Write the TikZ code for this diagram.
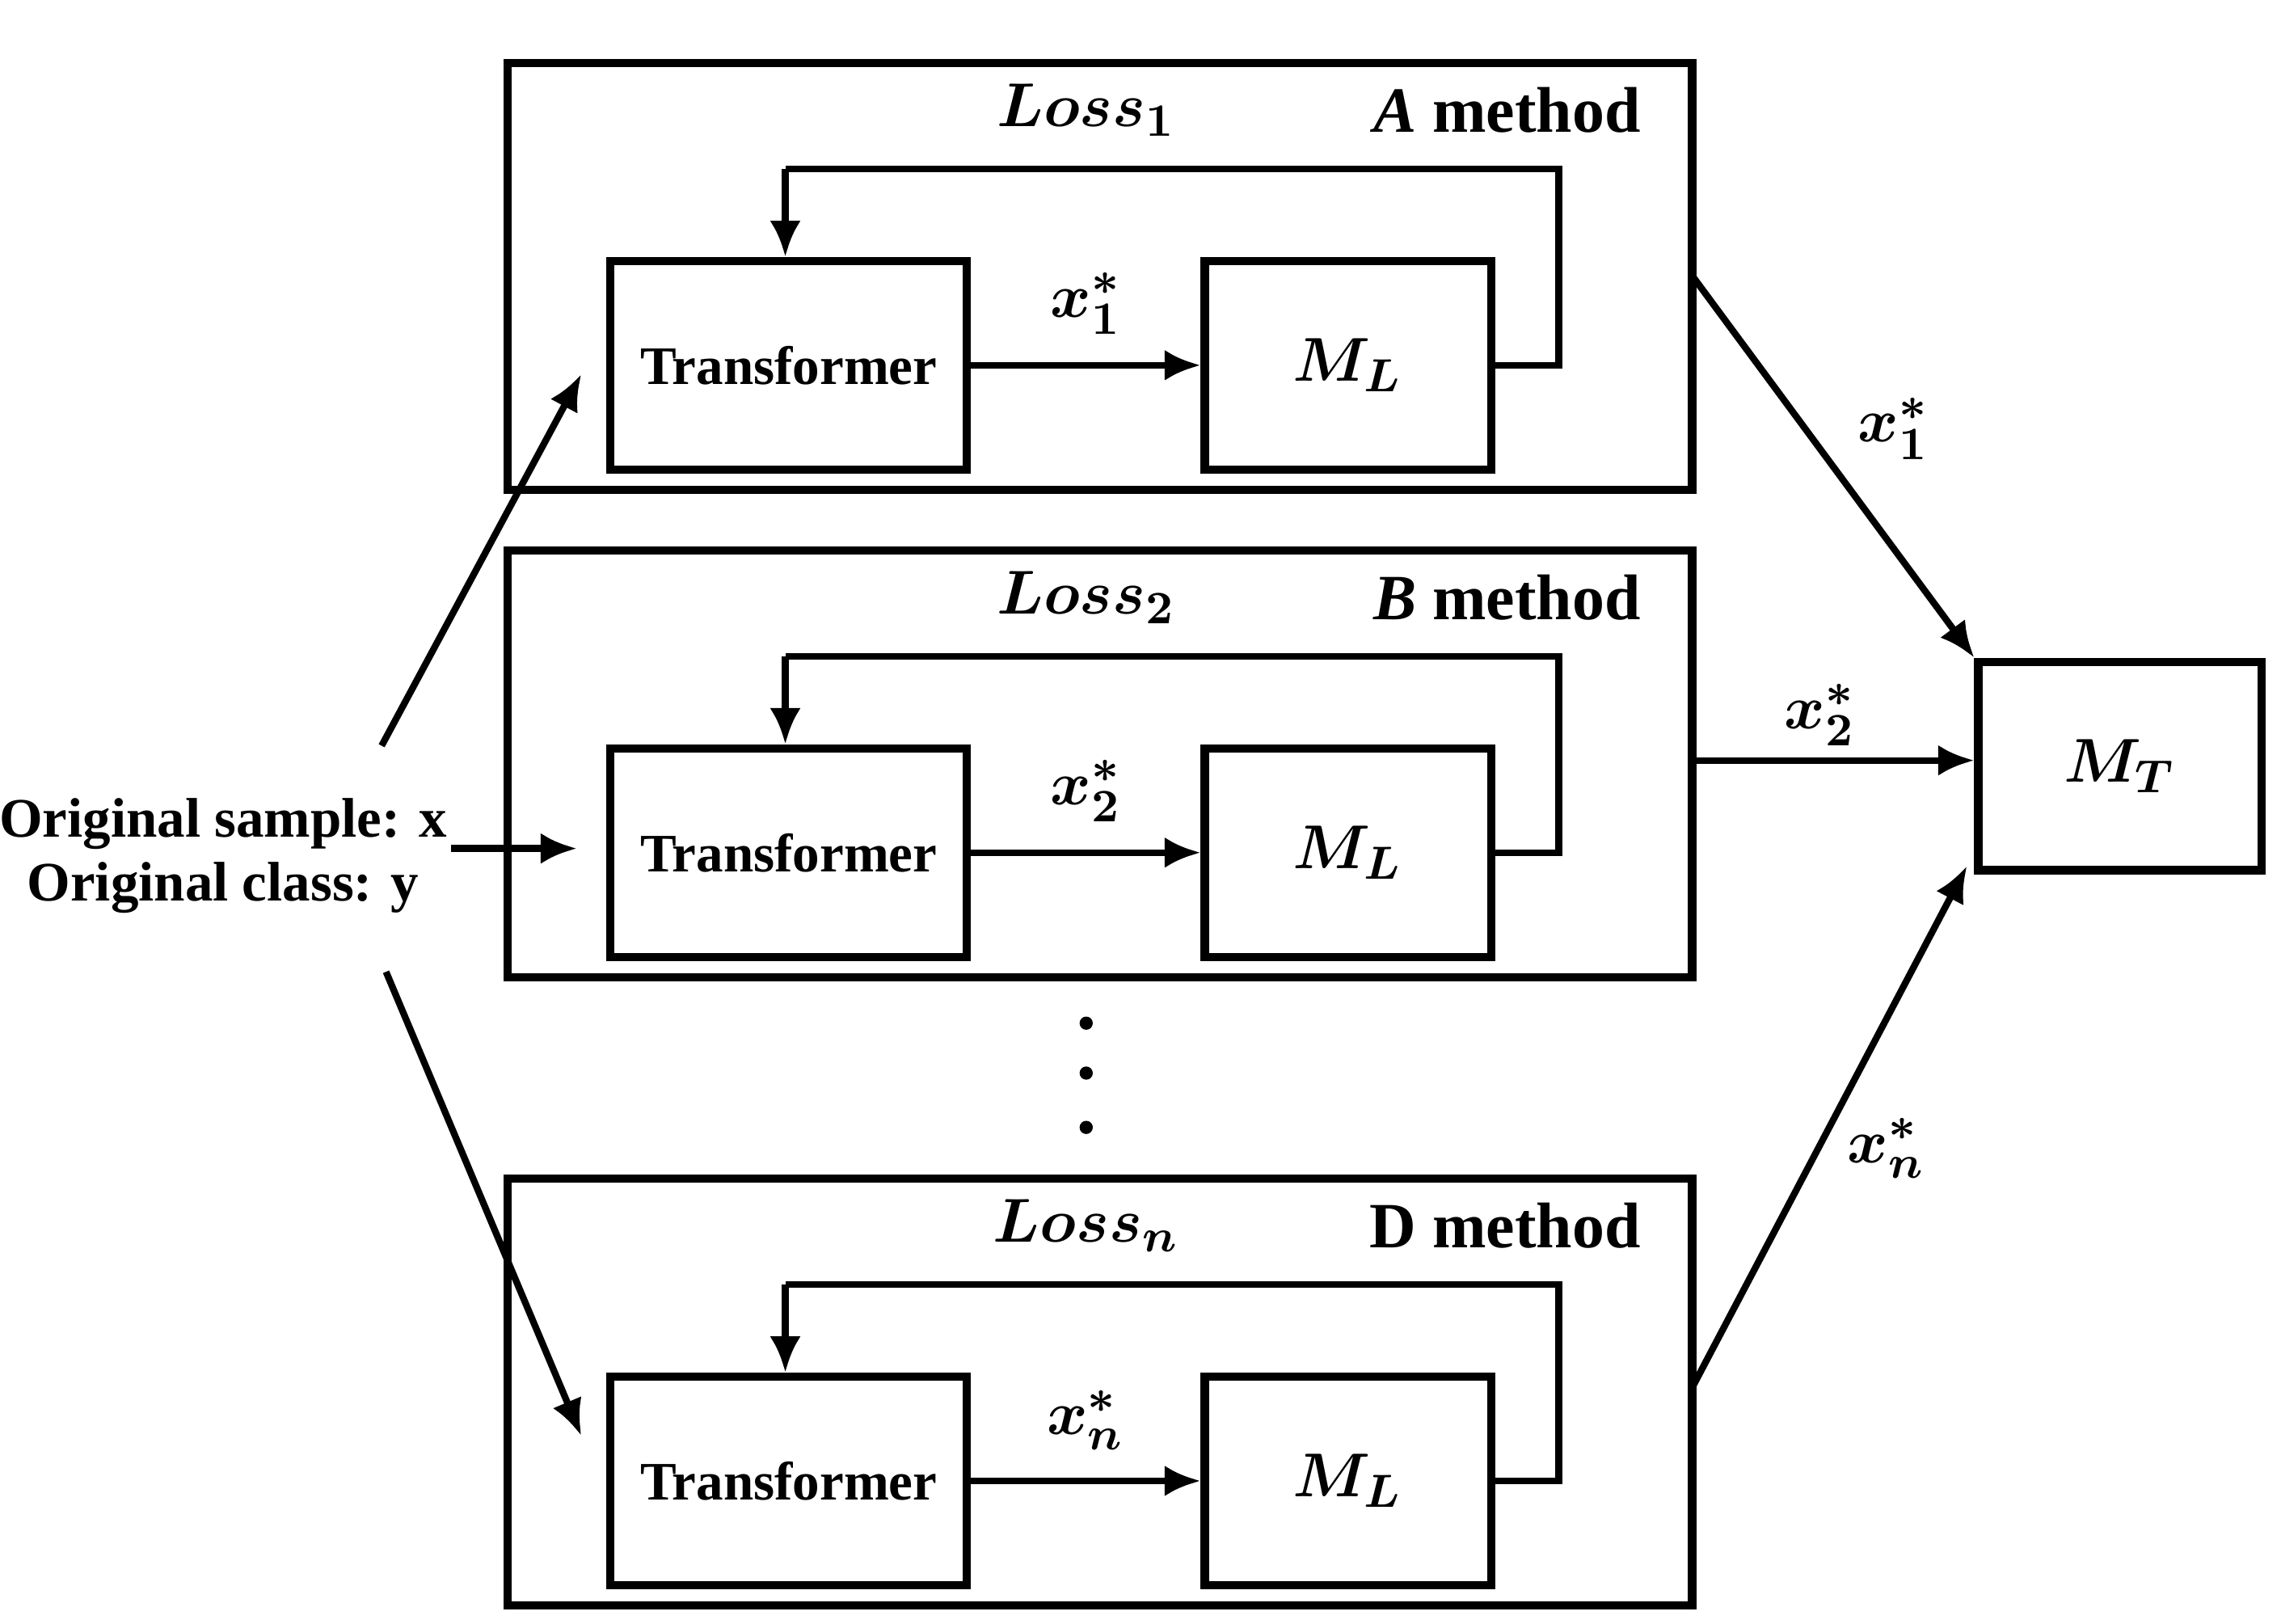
\documentclass[tikz,border=0pt]{standalone}
\usepackage{amsmath,bm}
\usepackage{fontspec}
\setmainfont{Liberation Serif}
\usetikzlibrary{arrows.meta}
\begin{document}
\begin{tikzpicture}[x=0.01cm,y=-0.01cm,
  box/.style={draw,line width=1.6pt,inner sep=0pt},
  arr/.style={line width=1.3pt,-{Latex[length=7pt,width=6pt]}},
  lbl/.style={font=\bfseries\fontsize{10.5}{12}\selectfont},
  ml/.style={font=\fontsize{12.5}{14}\selectfont},
  every node/.append style={text=black}]
\useasboundingbox (0,0) rectangle (1554,1106);
\foreach \n/\yt/\loss/\meth/\xs in {a/40/1/\textbf{\textit{A} method}/1, b/372/2/\textbf{\textit{B} method}/2, d/800/n/\textbf{D method}/n}{
  \node[box,minimum width=807*0.01cm,minimum height=291*0.01cm,anchor=north west] (o\n) at (343,\yt) {};
  \node[box,minimum width=243*0.01cm,minimum height=142*0.01cm,anchor=north west] (t\n) at (413,\yt+135) {};
  \node[lbl] at (t\n.center) {Transformer};
  \node[box,minimum width=195*0.01cm,minimum height=142*0.01cm,anchor=north west] (m\n) at (818,\yt+135) {};
  \node[ml] at (m\n.center) {$\bm{M_L}$};
  \node[ml] (l\n) at (740,\yt+35) {$\bm{Loss_{\loss}}$};
  \node[font=\fontsize{12.5}{14}\selectfont,anchor=east] (h\n) at (1130,\yt+35) {\meth};
  \draw[arr] (t\n.east) -- node[above,ml,yshift=2pt]{$\bm{x^*_{\xs}}$} (m\n.west);
  \coordinate (f\n) at (1062,\yt+75);
  \coordinate (g\n) at (535,\yt+75);
  \draw[line width=1.3pt] (m\n.east) -| (f\n) -- (g\n);
  \draw[arr] (g\n) -- (535,\yt+135);
}
\node[box,minimum width=193*0.01cm,minimum height=142*0.01cm,anchor=north west] (mt) at (1345,448) {};
\node[ml] at (mt.center) {$\bm{M_T}$};
\foreach \yy in {697,731,768} \fill (740,\yy) circle (4.5);
\node[font=\bfseries\fontsize{10.8}{12.5}\selectfont,align=center] (in) at (152,583) {Original sample: x\\Original class: y};
\coordinate (s1) at (260,508); \coordinate (e1) at (396,255);
\coordinate (s2) at (307,578); \coordinate (e2) at (393,578);
\coordinate (s3) at (263,662); \coordinate (e3) at (396,978);
\draw[arr] (s1) -- (e1);
\draw[arr] (s2) -- (e2);
\draw[arr] (s3) -- (e3);
\coordinate (p1) at (1153,188); \coordinate (p2) at (1153,518); \coordinate (p3) at (1153,945);
\draw[arr] (p1) -- (mt.north west);
\draw[arr] (p2) -- (mt.west |- p2);
\draw[arr] (p3) -- (1340,590);
\node[ml] at (1290,292) {$\bm{x^*_1}$};
\node[ml] at (1240,487) {$\bm{x^*_2}$};
\node[ml] at (1285,782) {$\bm{x^*_n}$};
\end{tikzpicture}
\end{document}
